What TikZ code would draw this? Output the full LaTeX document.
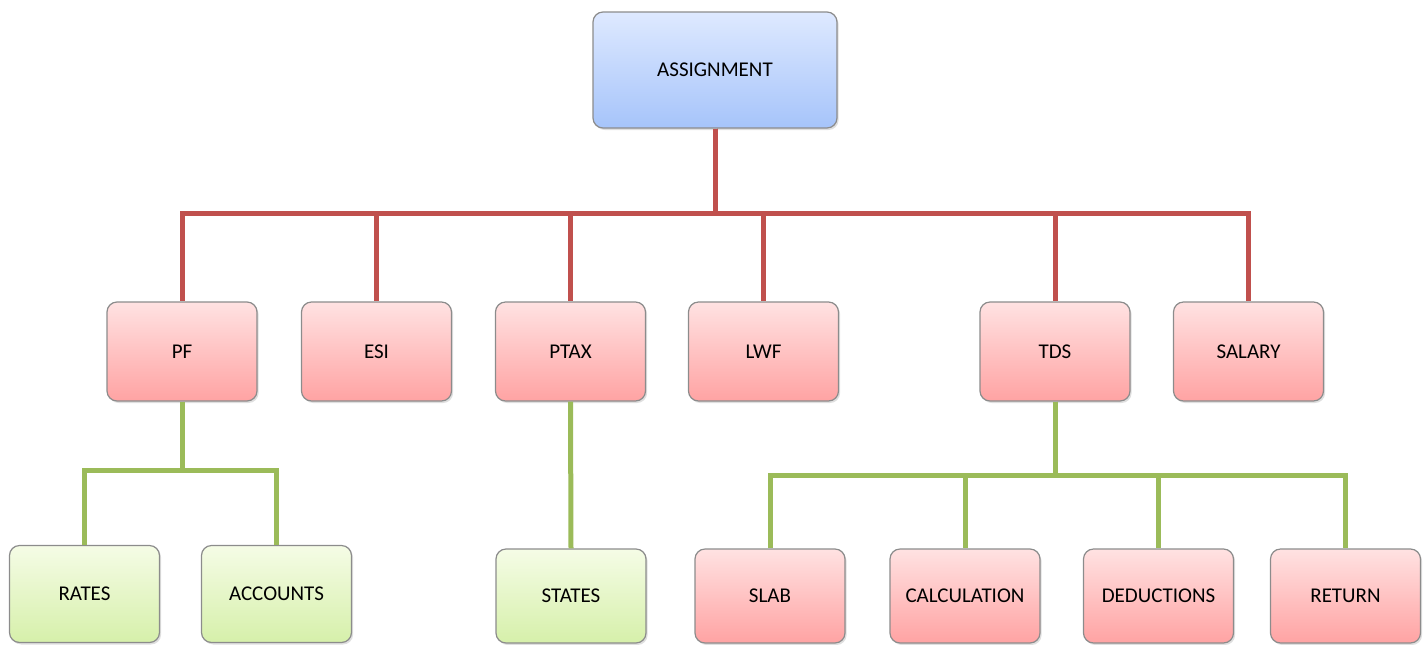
\documentclass[tikz,border=0pt]{standalone}
\usepackage{fontspec}
\setmainfont{Carlito}
\usetikzlibrary{shadows}
\definecolor{redln}{HTML}{C0504D}
\definecolor{greenln}{HTML}{9BBB59}
\tikzset{
  box/.style={draw=black!45, line width=0.6pt, rounded corners=5pt, minimum width=75pt, minimum height=49.5pt,
    font=\fontsize{10.5pt}{12pt}\selectfont, drop shadow={shadow xshift=0.8pt, shadow yshift=-1pt, opacity=0.25}},
  bluebox/.style={box, top color={rgb,255:red,222;green,233;blue,255}, bottom color={rgb,255:red,166;green,196;blue,250}},
  redbox/.style={box, top color={rgb,255:red,255;green,226;blue,226}, bottom color={rgb,255:red,255;green,163;blue,163}},
  greenbox/.style={box, top color={rgb,255:red,245;green,252;blue,230}, bottom color={rgb,255:red,214;green,240;blue,170}},
  redline/.style={draw=redln, line width=2.5pt},
  greenline/.style={draw=greenln, line width=2.5pt},
}
\begin{document}
\begin{tikzpicture}[x=0.5pt,y=-0.5pt]
\useasboundingbox (0,0) rectangle (1426,644);
% top
\node[bluebox, minimum width=122pt, minimum height=58pt] (A) at (715,70) {ASSIGNMENT};
% level 2
\node[redbox] (PF) at (182,351.5) {PF};
\node[redbox] (ESI) at (376.5,351.5) {ESI};
\node[redbox] (PTAX) at (570.5,351.5) {PTAX};
\node[redbox] (LWF) at (763.5,351.5) {LWF};
\node[redbox] (TDS) at (1055,351.5) {TDS};
\node[redbox] (SAL) at (1248.5,351.5) {SALARY};
% level 3
\node[greenbox, minimum height=48.5pt] (RATES) at (84.5,594) {RATES};
\node[greenbox, minimum height=48.5pt] (ACC) at (276.5,594) {ACCOUNTS};
\node[greenbox, minimum height=47pt] (STATES) at (571,596) {STATES};
\node[redbox, minimum height=47pt] (SLAB) at (770,596) {SLAB};
\node[redbox, minimum height=47pt] (CALC) at (965,596) {CALCULATION};
\node[redbox, minimum height=47pt] (DED) at (1158.5,596) {DEDUCTIONS};
\node[redbox, minimum height=47pt] (RET) at (1345.5,596) {RETURN};
% buses
\coordinate (bus) at (715,213);
\coordinate (pfbus) at (182,470);
\coordinate (tdsbus) at (1055,475);
\begin{scope}[on background layer/.style={}]
\foreach \c in {PF,ESI,PTAX,LWF,TDS,SAL}{
  \draw[redline] (A.south) -- (bus) -| (\c.north);
}
\draw[greenline] (PF.south) -- (pfbus) -| (RATES.north);
\draw[greenline] (pfbus) -| (ACC.north);
\draw[greenline] (PTAX.south) -- (STATES.north);
\foreach \c in {SLAB,CALC,DED,RET}{
  \draw[greenline] (TDS.south) -- (tdsbus) -| (\c.north);
}
\end{scope}
\end{tikzpicture}
\end{document}
